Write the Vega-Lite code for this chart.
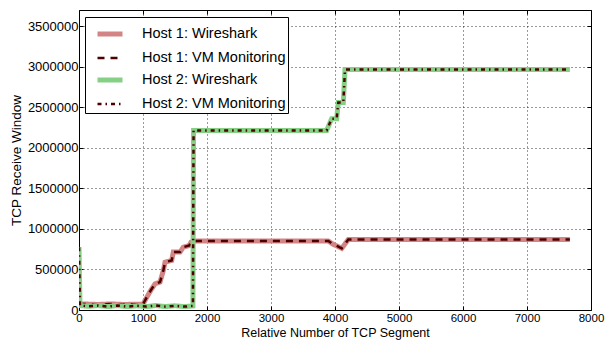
{
  "$schema": "https://vega.github.io/schema/vega-lite/v6.json",
  "width": 512,
  "height": 300,
  "autosize": {"type": "none"},
  "padding": {"left": 79, "top": 10, "right": 16, "bottom": 32},
  "background": "white",
  "config": {
    "view": {"stroke": "black", "strokeWidth": 1},
    "font": "Liberation Sans",
    "axis": {
      "labelFont": "Liberation Sans",
      "titleFont": "Liberation Sans",
      "titleFontWeight": "normal",
      "labelColor": "black",
      "titleColor": "black",
      "domain": false,
      "tickColor": "black",
      "tickSize": -4,
      "gridColor": "black",
      "gridDash": [1, 3],
      "gridOpacity": 1,
      "gridWidth": 0.8
    },
    "legend": {
      "title": null,
      "orient": "none",
      "legendX": 6,
      "legendY": 7,
      "strokeColor": "black",
      "fillColor": "white",
      "padding": 2,
      "symbolType": "stroke",
      "symbolSize": 625,
      "symbolOffset": 8,
      "labelFont": "Liberation Sans",
      "labelFontSize": 14.5,
      "labelColor": "black",
      "labelOffset": 17,
      "rowPadding": -3,
      "cornerRadius": 0
    }
  },
  "data": {
    "values": [
      {"s": "Host 1: Wireshark", "x": 0, "y": 60000},
      {"s": "Host 1: Wireshark", "x": 60, "y": 75000},
      {"s": "Host 1: Wireshark", "x": 300, "y": 68000},
      {"s": "Host 1: Wireshark", "x": 500, "y": 75000},
      {"s": "Host 1: Wireshark", "x": 700, "y": 68000},
      {"s": "Host 1: Wireshark", "x": 900, "y": 72000},
      {"s": "Host 1: Wireshark", "x": 1000, "y": 70000},
      {"s": "Host 1: Wireshark", "x": 1031, "y": 117000},
      {"s": "Host 1: Wireshark", "x": 1120, "y": 241000},
      {"s": "Host 1: Wireshark", "x": 1188, "y": 323000},
      {"s": "Host 1: Wireshark", "x": 1266, "y": 344000},
      {"s": "Host 1: Wireshark", "x": 1318, "y": 488000},
      {"s": "Host 1: Wireshark", "x": 1344, "y": 590000},
      {"s": "Host 1: Wireshark", "x": 1448, "y": 611000},
      {"s": "Host 1: Wireshark", "x": 1474, "y": 714000},
      {"s": "Host 1: Wireshark", "x": 1578, "y": 714000},
      {"s": "Host 1: Wireshark", "x": 1630, "y": 775000},
      {"s": "Host 1: Wireshark", "x": 1724, "y": 796000},
      {"s": "Host 1: Wireshark", "x": 1750, "y": 837000},
      {"s": "Host 1: Wireshark", "x": 1786, "y": 850000},
      {"s": "Host 1: Wireshark", "x": 3896, "y": 850000},
      {"s": "Host 1: Wireshark", "x": 3974, "y": 809000},
      {"s": "Host 1: Wireshark", "x": 4030, "y": 790000},
      {"s": "Host 1: Wireshark", "x": 4105, "y": 760000},
      {"s": "Host 1: Wireshark", "x": 4208, "y": 870000},
      {"s": "Host 1: Wireshark", "x": 7670, "y": 870000},

      {"s": "Host 1: VM Monitoring", "x": 0, "y": 60000},
      {"s": "Host 1: VM Monitoring", "x": 60, "y": 75000},
      {"s": "Host 1: VM Monitoring", "x": 300, "y": 68000},
      {"s": "Host 1: VM Monitoring", "x": 500, "y": 75000},
      {"s": "Host 1: VM Monitoring", "x": 700, "y": 68000},
      {"s": "Host 1: VM Monitoring", "x": 900, "y": 72000},
      {"s": "Host 1: VM Monitoring", "x": 1000, "y": 70000},
      {"s": "Host 1: VM Monitoring", "x": 1031, "y": 117000},
      {"s": "Host 1: VM Monitoring", "x": 1120, "y": 241000},
      {"s": "Host 1: VM Monitoring", "x": 1188, "y": 323000},
      {"s": "Host 1: VM Monitoring", "x": 1266, "y": 344000},
      {"s": "Host 1: VM Monitoring", "x": 1318, "y": 488000},
      {"s": "Host 1: VM Monitoring", "x": 1344, "y": 590000},
      {"s": "Host 1: VM Monitoring", "x": 1448, "y": 611000},
      {"s": "Host 1: VM Monitoring", "x": 1474, "y": 714000},
      {"s": "Host 1: VM Monitoring", "x": 1578, "y": 714000},
      {"s": "Host 1: VM Monitoring", "x": 1630, "y": 775000},
      {"s": "Host 1: VM Monitoring", "x": 1724, "y": 796000},
      {"s": "Host 1: VM Monitoring", "x": 1750, "y": 837000},
      {"s": "Host 1: VM Monitoring", "x": 1786, "y": 850000},
      {"s": "Host 1: VM Monitoring", "x": 3896, "y": 850000},
      {"s": "Host 1: VM Monitoring", "x": 3974, "y": 809000},
      {"s": "Host 1: VM Monitoring", "x": 4030, "y": 790000},
      {"s": "Host 1: VM Monitoring", "x": 4105, "y": 760000},
      {"s": "Host 1: VM Monitoring", "x": 4208, "y": 870000},
      {"s": "Host 1: VM Monitoring", "x": 7670, "y": 870000},

      {"s": "Host 2: Wireshark", "x": 0, "y": 775000},
      {"s": "Host 2: Wireshark", "x": 15, "y": 55000},
      {"s": "Host 2: Wireshark", "x": 150, "y": 45000},
      {"s": "Host 2: Wireshark", "x": 300, "y": 55000},
      {"s": "Host 2: Wireshark", "x": 450, "y": 42000},
      {"s": "Host 2: Wireshark", "x": 600, "y": 55000},
      {"s": "Host 2: Wireshark", "x": 750, "y": 42000},
      {"s": "Host 2: Wireshark", "x": 900, "y": 52000},
      {"s": "Host 2: Wireshark", "x": 1050, "y": 42000},
      {"s": "Host 2: Wireshark", "x": 1200, "y": 55000},
      {"s": "Host 2: Wireshark", "x": 1350, "y": 42000},
      {"s": "Host 2: Wireshark", "x": 1500, "y": 52000},
      {"s": "Host 2: Wireshark", "x": 1650, "y": 42000},
      {"s": "Host 2: Wireshark", "x": 1780, "y": 50000},
      {"s": "Host 2: Wireshark", "x": 1790, "y": 2215000},
      {"s": "Host 2: Wireshark", "x": 3870, "y": 2215000},
      {"s": "Host 2: Wireshark", "x": 3948, "y": 2360000},
      {"s": "Host 2: Wireshark", "x": 4026, "y": 2360000},
      {"s": "Host 2: Wireshark", "x": 4052, "y": 2560000},
      {"s": "Host 2: Wireshark", "x": 4130, "y": 2560000},
      {"s": "Host 2: Wireshark", "x": 4156, "y": 2965000},
      {"s": "Host 2: Wireshark", "x": 7670, "y": 2965000},

      {"s": "Host 2: VM Monitoring", "x": 0, "y": 775000},
      {"s": "Host 2: VM Monitoring", "x": 15, "y": 55000},
      {"s": "Host 2: VM Monitoring", "x": 150, "y": 45000},
      {"s": "Host 2: VM Monitoring", "x": 300, "y": 55000},
      {"s": "Host 2: VM Monitoring", "x": 450, "y": 42000},
      {"s": "Host 2: VM Monitoring", "x": 600, "y": 55000},
      {"s": "Host 2: VM Monitoring", "x": 750, "y": 42000},
      {"s": "Host 2: VM Monitoring", "x": 900, "y": 52000},
      {"s": "Host 2: VM Monitoring", "x": 1050, "y": 42000},
      {"s": "Host 2: VM Monitoring", "x": 1200, "y": 55000},
      {"s": "Host 2: VM Monitoring", "x": 1350, "y": 42000},
      {"s": "Host 2: VM Monitoring", "x": 1500, "y": 52000},
      {"s": "Host 2: VM Monitoring", "x": 1650, "y": 42000},
      {"s": "Host 2: VM Monitoring", "x": 1780, "y": 50000},
      {"s": "Host 2: VM Monitoring", "x": 1790, "y": 2215000},
      {"s": "Host 2: VM Monitoring", "x": 3870, "y": 2215000},
      {"s": "Host 2: VM Monitoring", "x": 3948, "y": 2360000},
      {"s": "Host 2: VM Monitoring", "x": 4026, "y": 2360000},
      {"s": "Host 2: VM Monitoring", "x": 4052, "y": 2560000},
      {"s": "Host 2: VM Monitoring", "x": 4130, "y": 2560000},
      {"s": "Host 2: VM Monitoring", "x": 4156, "y": 2965000},
      {"s": "Host 2: VM Monitoring", "x": 7670, "y": 2965000}
    ]
  },
  "resolve": {"axis": {"x": "independent", "y": "independent"}},
  "layer": [
    {
      "mark": {"type": "line", "strokeCap": "butt", "strokeJoin": "miter", "clip": true},
      "encoding": {
        "x": {
          "field": "x", "type": "quantitative",
          "scale": {"domain": [0, 8000], "nice": false, "zero": false},
          "axis": {"orient": "bottom", "title": "Relative Number of TCP Segment", "values": [0,1000,2000,3000,4000,5000,6000,7000,8000], "format": "d", "labelFontSize": 11.5, "titleFontSize": 12.5, "labelPadding": 6.5, "titlePadding": 2, "labelFlush": false}
        },
        "y": {
          "field": "y", "type": "quantitative",
          "scale": {"domain": [0, 3700000], "nice": false},
          "axis": {"orient": "left", "title": "TCP Receive Window", "values": [0,500000,1000000,1500000,2000000,2500000,3000000,3500000], "format": "d", "labelFontSize": 13, "titleFontSize": 13.5, "labelPadding": 5, "titlePadding": 4}
        },
        "color": {
          "field": "s", "type": "nominal",
          "scale": {
            "domain": ["Host 1: Wireshark", "Host 1: VM Monitoring", "Host 2: Wireshark", "Host 2: VM Monitoring"],
            "range": ["#d38585", "#4d0000", "#86d086", "#4d0000"]
          }
        },
        "strokeDash": {
          "field": "s", "type": "nominal",
          "scale": {
            "domain": ["Host 1: Wireshark", "Host 1: VM Monitoring", "Host 2: Wireshark", "Host 2: VM Monitoring"],
            "range": [[1, 0], [7, 6], [1, 0], [4, 4, 1.5, 4]]
          }
        },
        "strokeWidth": {
          "field": "s", "type": "nominal",
          "scale": {
            "type": "ordinal",
            "domain": ["Host 1: Wireshark", "Host 1: VM Monitoring", "Host 2: Wireshark", "Host 2: VM Monitoring"],
            "range": [5, 2.5, 5, 2.5]
          }
        },
        "order": {"field": "x", "type": "quantitative"}
      }
    },
    {
      "mark": {"type": "point", "opacity": 0},
      "encoding": {
        "x": {
          "field": "x", "type": "quantitative",
          "axis": {"orient": "top", "title": null, "labels": false, "grid": false, "values": [0,1000,2000,3000,4000,5000,6000,7000,8000]}
        },
        "y": {
          "field": "y", "type": "quantitative",
          "axis": {"orient": "right", "title": null, "labels": false, "grid": false, "values": [0,500000,1000000,1500000,2000000,2500000,3000000,3500000]}
        }
      }
    }
  ]
}
